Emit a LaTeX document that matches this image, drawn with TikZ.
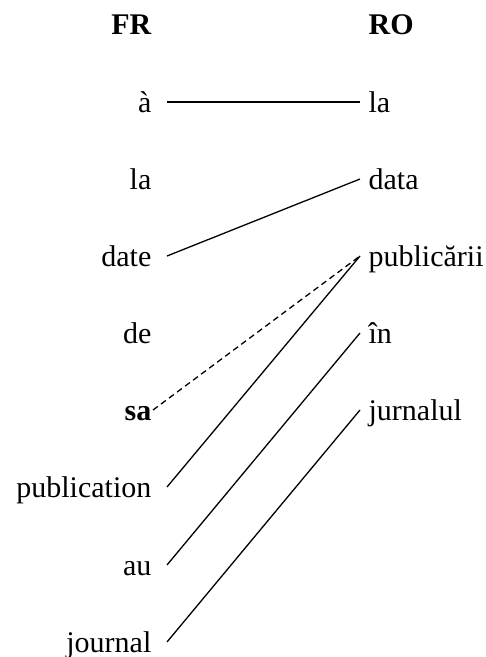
\documentclass[tikz,border=0pt]{standalone}
\usepackage{fontspec}
\setmainfont{Liberation Serif}
\begin{document}
\begin{tikzpicture}[x=1pt, y=1pt, line width=1.3pt,
		every node/.style={font=\fontsize{30}{30}\selectfont, text height=20pt, text depth=0pt},
		fr/.style={anchor=base east, inner xsep=15pt},
		ro/.style={anchor=base west, inner xsep=8pt}]
		\useasboundingbox (0,0) rectangle (486,-657);

		% Draw the column heads
		\node[fr, font=\fontsize{30}{30}\selectfont\bfseries] (frhead) at (167,-34) {FR};
		\node[ro, font=\fontsize{30}{30}\selectfont\bfseries] (rohead) at (360,-34) {RO};

		% Draw the French words
		\node[fr] (fr1) at (167,-112) {à};
		\node[fr] (fr2) at (167,-189) {la};
		\node[fr] (fr3) at (167,-266) {date};
		\node[fr] (fr4) at (167,-343) {de};
		\node[fr] (fr5) at (167,-420) {\textbf{sa}};
		\node[fr] (fr6) at (167,-497) {publication};
		\node[fr] (fr7) at (167,-575) {au};
		\node[fr] (fr8) at (167,-652) {journal};

		% Draw the Romanian words
		\node[ro] (ro1) at (360,-112) {la};
		\node[ro] (ro2) at (360,-189) {data};
		\node[ro] (ro3) at (360,-266) {publicării};
		\node[ro] (ro4) at (360,-343) {în};
		\node[ro] (ro5) at (360,-420) {jurnalul};

		% Draw the alignment links
		\draw[-] (fr1.east) -- (ro1.west);
		\draw[-] (fr3.east) -- (ro2.west);
		\draw[-, dash pattern=on 6pt off 4pt] ([xshift=-14pt]fr5.east) -- (ro3.west);
		\draw[-] (fr6.east) -- (ro3.west);
		\draw[-] (fr7.east) -- (ro4.west);
		\draw[-] (fr8.east) -- (ro5.west);
	\end{tikzpicture}
\end{document}
